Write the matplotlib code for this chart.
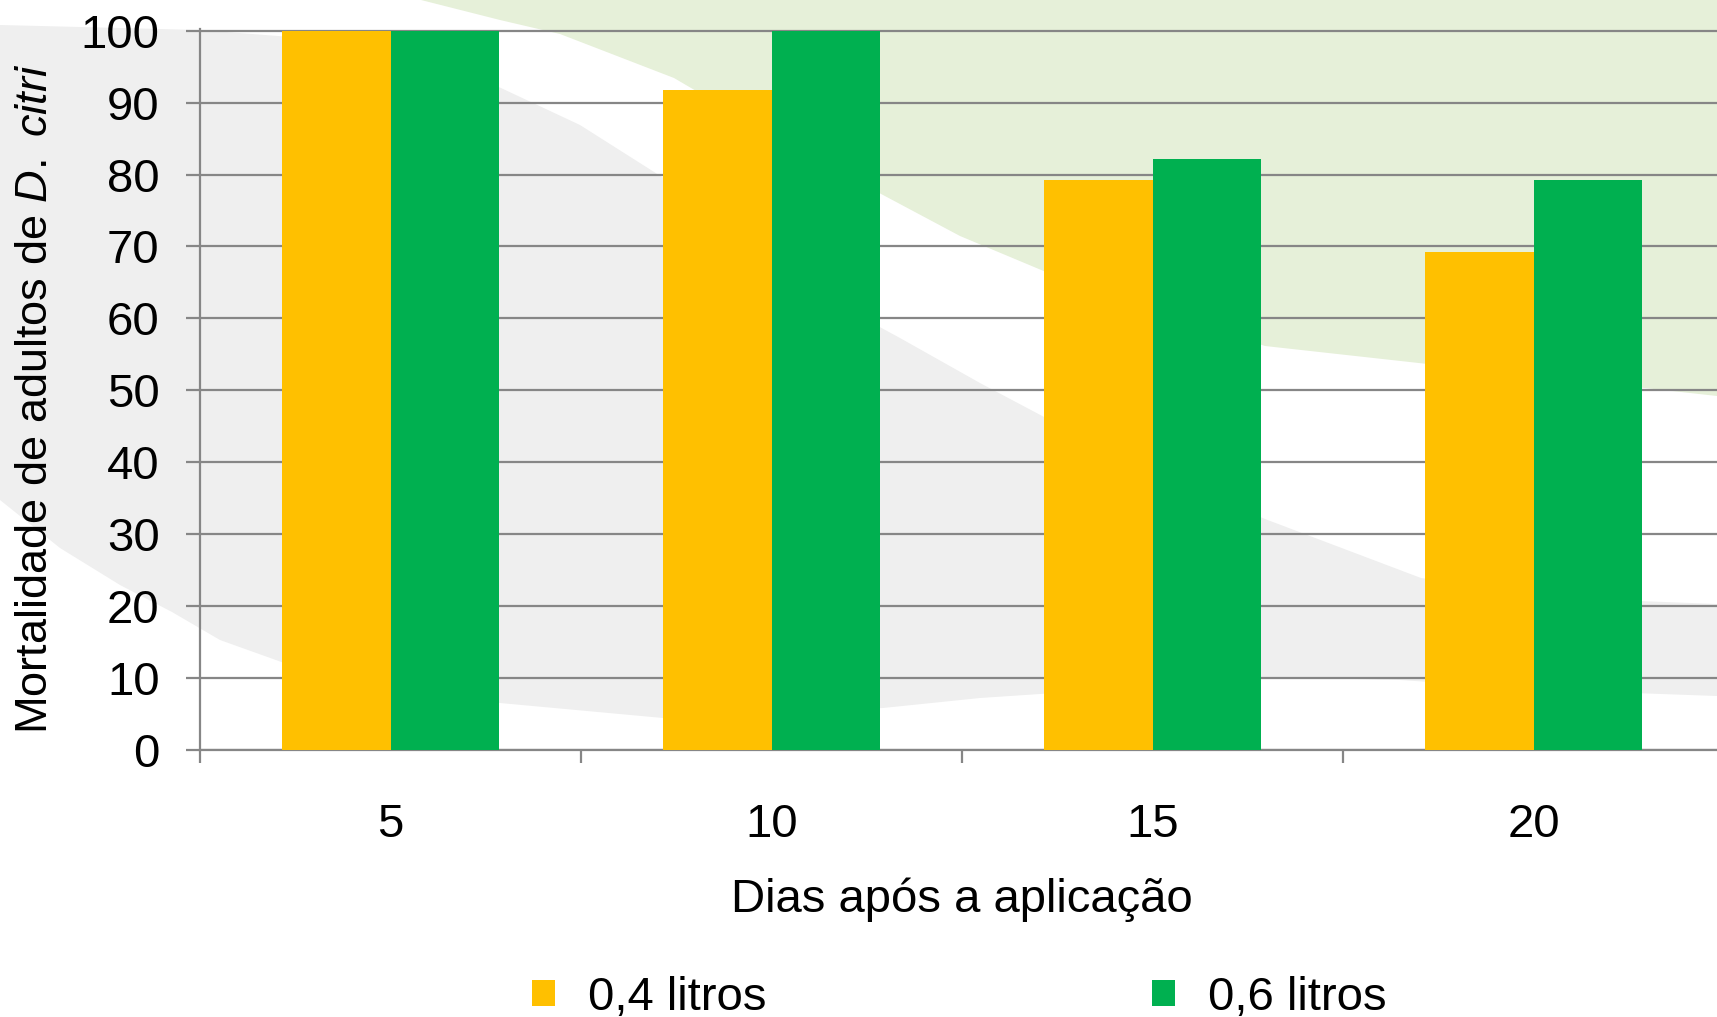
import matplotlib
matplotlib.use("Agg")
import matplotlib.pyplot as plt
import numpy as np
from matplotlib.patches import Patch, Polygon

plt.rcParams['font.family'] = ['Liberation Sans', 'DejaVu Sans']
plt.rcParams['mathtext.fontset'] = 'custom'
plt.rcParams['mathtext.rm'] = 'Liberation Sans'
plt.rcParams['mathtext.it'] = 'Liberation Sans:italic'

# mortalidade (%) por dias apos a aplicacao
dias = ['5', '10', '15', '20']
litros_04 = [100, 91.7, 79.2, 69.2]
litros_06 = [100, 100, 82.2, 79.2]
series_names = ['0,4 litros', '0,6 litros']

amarelo = '#FFC000'
verde = '#00B050'
cinza = '#868686'
fs = 34

W, H = 1717, 1017
fig = plt.figure(figsize=(W / 100, H / 100), dpi=100)

# slide background swooshes, in pixel coordinates
bg = fig.add_axes([0, 0, 1, 1], zorder=0)
bg.set_xlim(0, W)
bg.set_ylim(H, 0)
bg.axis('off')
faixa_verde = [(421, 0), (W, 0), (W, 396), (1500, 372), (1265, 346),
               (1046, 272), (960, 236), (883, 195), (773, 136), (674, 78),
               (560, 34), (500, 20)]
faixa_cinza = [(0, 25), (200, 30), (330, 40), (420, 55), (501, 88),
               (580, 125), (662, 177), (750, 240), (830, 300), (900, 338),
               (980, 383), (1046, 418), (1150, 470), (1265, 519),
               (1421, 578), (1560, 598), (W, 604), (W, 696), (1550, 690),
               (1400, 680), (1265, 677), (1100, 690), (980, 698), (883, 708),
               (760, 714), (663, 718), (500, 703), (380, 688), (287, 664),
               (220, 640), (172, 612), (120, 585), (60, 548), (0, 500)]
bg.add_patch(Polygon(faixa_verde, closed=True, facecolor='#e6f0d9', edgecolor='none'))
bg.add_patch(Polygon(faixa_cinza, closed=True, facecolor='#efefef', edgecolor='none'))

ax = fig.add_axes([200 / W, 1 - 750 / H, 1524 / W, 721.5 / H], zorder=1)
ax.patch.set_alpha(0)

x = np.arange(len(dias))
w = 0.285
ax.bar(x - w / 2, litros_04, w, color=amarelo, zorder=3, label=series_names[0])
ax.bar(x + w / 2, litros_06, w, color=verde, zorder=3, label=series_names[1])

ax.set_xlim(-0.5, len(dias) - 0.5)
ax.set_ylim(0, 100.3)
ax.set_yticks(range(0, 101, 10))
ax.set_xticks(x)
ax.set_xticklabels(dias)
ax.set_xticks(np.arange(-0.5, len(dias), 1), minor=True)

ax.grid(axis='y', color=cinza, linewidth=1.6, zorder=1)
ax.set_axisbelow(True)
for s in ['top', 'right']:
    ax.spines[s].set_visible(False)
for s in ['left', 'bottom']:
    ax.spines[s].set_color(cinza)
    ax.spines[s].set_linewidth(1.6)

ax.tick_params(axis='y', direction='out', length=10, width=1.6, color=cinza,
               labelsize=fs, pad=19)
ax.tick_params(axis='x', which='major', length=0, labelsize=fs, pad=38)
ax.tick_params(axis='x', which='minor', direction='out', length=9.5,
               width=1.6, color=cinza)

ax.set_xlabel('Dias após a aplicação', fontsize=fs, labelpad=22)
fig.text(36 / W, 1 - 399 / H, r'Mortalidade de adultos de $\mathit{D.}$ $\mathit{citri}$',
         fontsize=32.5, rotation=90, ha='center', va='center')

handles = [Patch(facecolor=amarelo), Patch(facecolor=verde)]
fig.legend(handles, series_names, loc='center', bbox_to_anchor=(0.5587, 0.019),
           ncol=2, frameon=False, fontsize=fs, handlelength=0.49,
           handleheight=0.49, handletextpad=0.7, columnspacing=8.15)

fig.savefig('out.png', dpi=100)
